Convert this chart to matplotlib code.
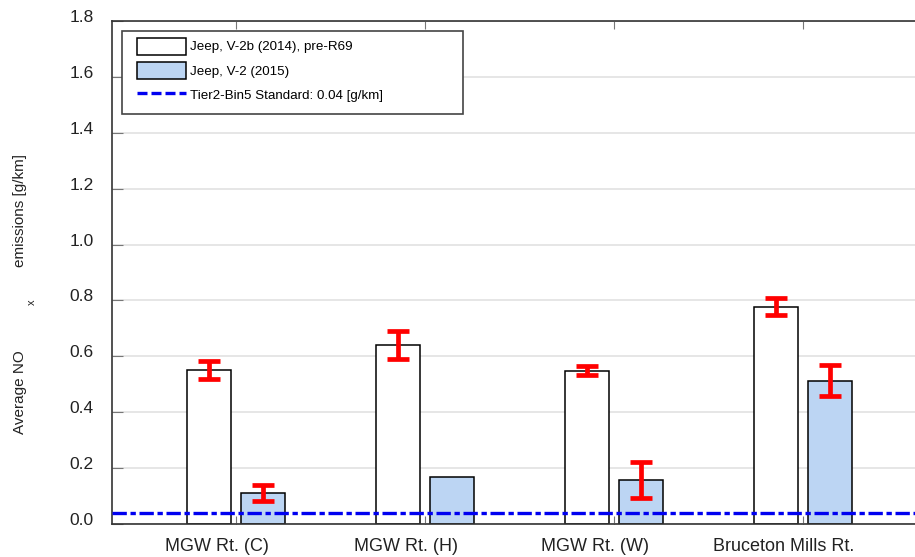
import numpy as np
import matplotlib
matplotlib.use("Agg")
import matplotlib.pyplot as plt
import matplotlib.transforms as mtrans
from matplotlib.patches import Rectangle

plt.rcParams['font.family'] = ['Liberation Sans', 'DejaVu Sans']

routes = ["MGW Rt. (C)", "MGW Rt. (H)", "MGW Rt. (W)", "Bruceton Mills Rt."]
jeep_2014 = [0.552, 0.639, 0.549, 0.777]
jeep_2014_err = [0.033, 0.050, 0.017, 0.030]
jeep_2015 = [0.110, 0.167, 0.158, 0.513]
jeep_2015_err = [0.028, 0.0, 0.065, 0.056]
standard = 0.04
yticks = [0.0, 0.2, 0.4, 0.6, 0.8, 1.0, 1.2, 1.4, 1.6, 1.8]

x = np.arange(1, len(routes) + 1)
w = 0.228
off = 0.143

fig = plt.figure(figsize=(9.15, 5.57), dpi=100)
ax = fig.add_axes([112/915, 1-524/557, 1-112/915, 503/557])

b1 = ax.bar(x - off, jeep_2014, w, color="white", edgecolor="black", lw=1.1,
            label="Jeep, V-2b (2014), pre-R69", zorder=2)
b2 = ax.bar(x + off, jeep_2015, w, color="#bcd5f3", edgecolor="black", lw=1.1,
            label="Jeep, V-2 (2015)", zorder=2)

def errs(xs, ys, es):
    keep = [i for i, e in enumerate(es) if e > 0]
    ax.errorbar([xs[i] for i in keep], [ys[i] for i in keep], yerr=[es[i] for i in keep],
                fmt="none", ecolor="red", elinewidth=3.4, capsize=8, capthick=3.4, zorder=4)

errs(x - off, jeep_2014, jeep_2014_err)
errs(x + off, jeep_2015, jeep_2015_err)

ax.axhline(standard, color="#0000f0", lw=2.4, ls=(0, (4.3, 1.1, 1.6, 1.1)), zorder=3)
ln, = ax.plot([], [], color="#0000f0", lw=2.4, ls=(0, (3.0, 1.2)),
              label="Tier2-Bin5 Standard: 0.04 [g/km]")

ax.set_ylim(0, 1.8)
ax.set_xlim(1 - 124/189, 1 + (915-236)/189)
ax.set_yticks(yticks)
ax.set_yticklabels([f"{v:.1f}" for v in yticks])
ax.set_xticks(x)
ax.set_xticklabels(routes)
ax.yaxis.grid(True, color="#e2e2e2", lw=1.2, zorder=0)
ax.set_axisbelow(True)

ax.tick_params(axis="y", direction="in", length=8, color="#777777", pad=13,
               labelsize=12.5, labelcolor="#222222")
ax.tick_params(axis="x", direction="in", length=6, color="#777777", top=True, pad=10,
               labelsize=13, labelcolor="#222222")
for lab in ax.get_xticklabels():
    lab.set_transform(lab.get_transform() + mtrans.ScaledTranslation(-0.195, 0, fig.dpi_scale_trans))
for lab in ax.get_yticklabels():
    lab.set_transform(lab.get_transform() + mtrans.ScaledTranslation(0, 0.05, fig.dpi_scale_trans))

for s in ["left", "bottom", "top"]:
    ax.spines[s].set_color("#333333")
    ax.spines[s].set_linewidth(1.2)
ax.spines["right"].set_visible(False)

# legend frame drawn by hand (wider than the entries)
frame = Rectangle((10/803, (524-114)/503), 341/803, 83/503, transform=ax.transAxes,
                  facecolor="white", edgecolor="#444444", lw=1.2, zorder=4.9)
ax.add_patch(frame)
leg = ax.legend([b1, b2, ln], [b1.get_label(), b2.get_label(), ln.get_label()],
                loc="upper left", bbox_to_anchor=(25/803, (524-37.5)/503),
                fontsize=9.6, handlelength=3.68, handleheight=1.6,
                handletextpad=0.3, labelspacing=0.55, borderpad=0, borderaxespad=0,
                frameon=False)

fig.text(20/915, 1-392/557, "Average NO", rotation=90, ha="center", va="center",
         fontsize=11, color="#222222")
fig.text(32/915, 1-302/557, "x", rotation=90, ha="center", va="center",
         fontsize=8, color="#222222")
fig.text(20/915, 1-210/557, "emissions [g/km]", rotation=90, ha="center", va="center",
         fontsize=11, color="#222222")

fig.savefig("out.png", dpi=100)
